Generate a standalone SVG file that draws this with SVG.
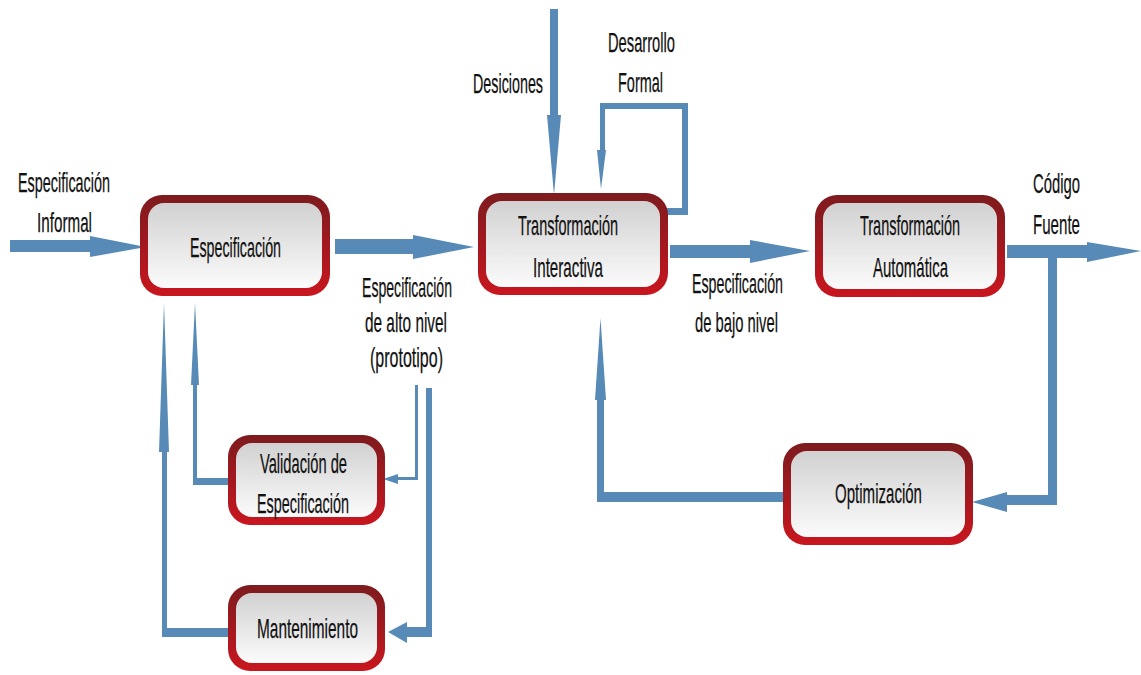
<svg xmlns="http://www.w3.org/2000/svg" width="1141" height="675" viewBox="0 0 1141 675">
  <defs>
    <linearGradient id="rim" x1="0" y1="0" x2="0" y2="1">
      <stop offset="0" stop-color="#7d1b1e"/>
      <stop offset="1" stop-color="#c9161f"/>
    </linearGradient>
    <linearGradient id="face" x1="0" y1="0" x2="0" y2="1">
      <stop offset="0" stop-color="#d1d1d1"/>
      <stop offset="1" stop-color="#fbfbfb"/>
    </linearGradient>
    <style>
      .rim { fill: url(#rim); }
      .face { fill: url(#face); }
      .flow { fill: #578ab6; }
      text { font-family: "Liberation Sans", Arial, sans-serif; font-size: 28px; fill: #111; stroke: #111; stroke-width: 0.25px; }
    </style>
  </defs>

  <!-- connectors -->
  <g id="connectors" class="flow">
    <!-- Especificación Informal -> Especificación -->
    <rect x="10" y="240" width="82" height="12"/>
    <polygon points="90,236 146,247 90,257"/>
    <!-- Especificación -> Transformación Interactiva -->
    <rect x="335" y="239" width="80" height="15"/>
    <polygon points="413,235 474,247 413,259"/>
    <!-- Transformación Interactiva -> Transformación Automática -->
    <rect x="670" y="245" width="82" height="13"/>
    <polygon points="750,240 810,251 750,263"/>
    <!-- Código Fuente output -->
    <rect x="1007" y="245" width="83" height="13"/>
    <polygon points="1087,242 1141,251 1087,262"/>
    <!-- branch down to Optimización -->
    <rect x="1048" y="250" width="9" height="255"/>
    <rect x="1005" y="495" width="52" height="10"/>
    <polygon points="1007,492 972,502 1007,512"/>
    <!-- Optimización -> Transformación Interactiva -->
    <rect x="597" y="492" width="188" height="10"/>
    <rect x="597" y="398" width="7" height="104"/>
    <polygon points="595,400 600.5,318 606,400"/>
    <!-- Desiciones -->
    <rect x="550" y="9" width="8" height="108"/>
    <polygon points="547,115 554,195 561,115"/>
    <!-- Desarrollo Formal loop -->
    <rect x="665" y="208" width="23" height="7"/>
    <rect x="682" y="103" width="6" height="112"/>
    <rect x="600" y="103" width="88" height="6"/>
    <rect x="600" y="103" width="5" height="50"/>
    <polygon points="597,150 601,189 606,150"/>
    <!-- Mantenimiento -> Especificación -->
    <rect x="162" y="628" width="68" height="9"/>
    <rect x="162" y="450" width="5" height="187"/>
    <polygon points="159,452 164,303 169,452"/>
    <!-- Validación -> Especificación -->
    <rect x="193" y="478" width="37" height="7"/>
    <rect x="193" y="383" width="4" height="102"/>
    <polygon points="191,385 195,303 199,385"/>
    <!-- alto nivel -> Validación -->
    <rect x="415" y="385" width="3" height="95"/>
    <rect x="395" y="477" width="23" height="3"/>
    <polygon points="398,474 383,479 398,484"/>
    <!-- alto nivel -> Mantenimiento -->
    <rect x="426" y="388" width="6" height="249"/>
    <rect x="405" y="627" width="27" height="10"/>
    <polygon points="407,622 388,632 407,643"/>
  </g>

  <!-- connector labels -->
  <g id="labels">
    <text x="18" y="192" textLength="92" lengthAdjust="spacingAndGlyphs">Especificación</text>
    <text x="37" y="232" textLength="55" lengthAdjust="spacingAndGlyphs">Informal</text>
    <text x="362" y="297" textLength="90" lengthAdjust="spacingAndGlyphs">Especificación</text>
    <text x="365" y="332" textLength="82" lengthAdjust="spacingAndGlyphs">de alto nivel</text>
    <text x="370" y="367" textLength="73" lengthAdjust="spacingAndGlyphs">(prototipo)</text>
    <text x="473" y="93" textLength="70" lengthAdjust="spacingAndGlyphs">Desiciones</text>
    <text x="608" y="52" textLength="67" lengthAdjust="spacingAndGlyphs">Desarrollo</text>
    <text x="618" y="92" textLength="45" lengthAdjust="spacingAndGlyphs">Formal</text>
    <text x="692" y="293" textLength="91" lengthAdjust="spacingAndGlyphs">Especificación</text>
    <text x="695" y="332" textLength="83" lengthAdjust="spacingAndGlyphs">de bajo nivel</text>
    <text x="1033" y="193" textLength="47" lengthAdjust="spacingAndGlyphs">Código</text>
    <text x="1033" y="234" textLength="47" lengthAdjust="spacingAndGlyphs">Fuente</text>
  </g>

  <!-- nodes -->
  <g id="especificacion">
    <rect class="rim" x="140" y="195" width="190" height="101" rx="22"/>
    <rect class="face" x="148" y="203" width="174" height="85" rx="16"/>
    <text x="190" y="257" textLength="91" lengthAdjust="spacingAndGlyphs">Especificación</text>
  </g>
  <g id="transformacion-interactiva">
    <rect class="rim" x="478" y="193" width="190" height="102" rx="22"/>
    <rect class="face" x="486" y="201" width="174" height="86" rx="16"/>
    <text x="518" y="235" textLength="100" lengthAdjust="spacingAndGlyphs">Transformación</text>
    <text x="533" y="277" textLength="70" lengthAdjust="spacingAndGlyphs">Interactiva</text>
  </g>
  <g id="transformacion-automatica">
    <rect class="rim" x="815" y="195" width="190" height="102" rx="22"/>
    <rect class="face" x="823" y="203" width="174" height="86" rx="16"/>
    <text x="860" y="235" textLength="100" lengthAdjust="spacingAndGlyphs">Transformación</text>
    <text x="873" y="277" textLength="75" lengthAdjust="spacingAndGlyphs">Automática</text>
  </g>
  <g id="validacion">
    <rect class="rim" x="228" y="435" width="157" height="90" rx="22"/>
    <rect class="face" x="236" y="443" width="141" height="74" rx="16"/>
    <text x="260" y="473" textLength="87" lengthAdjust="spacingAndGlyphs">Validación de</text>
    <text x="257" y="513" textLength="92" lengthAdjust="spacingAndGlyphs">Especificación</text>
  </g>
  <g id="mantenimiento">
    <rect class="rim" x="228" y="585" width="157" height="86" rx="22"/>
    <rect class="face" x="236" y="593" width="141" height="70" rx="16"/>
    <text x="257" y="638" textLength="101" lengthAdjust="spacingAndGlyphs">Mantenimiento</text>
  </g>
  <g id="optimizacion">
    <rect class="rim" x="783" y="443" width="190" height="102" rx="22"/>
    <rect class="face" x="791" y="451" width="174" height="86" rx="16"/>
    <text x="835" y="503" textLength="87" lengthAdjust="spacingAndGlyphs">Optimización</text>
  </g>
</svg>
